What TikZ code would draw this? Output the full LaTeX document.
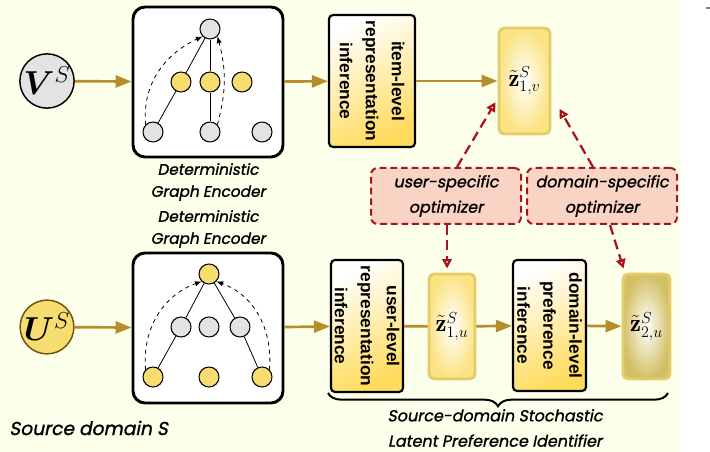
\documentclass[tikz,border=0pt]{standalone}
\usepackage{fontspec}
\usepackage{amsmath,bm}
\usetikzlibrary{arrows.meta,decorations.pathreplacing,calc}
\newfontfamily\labfont{Poppins}[FakeSlant=0.2,FakeBold=1.2]
\newfontfamily\boxfont{Liberation Sans}
\definecolor{bgivory}{HTML}{FCFFE9}
\definecolor{gold}{HTML}{B58E2B}
\definecolor{nodeyel}{HTML}{F7DC6F}
\definecolor{nodegray}{HTML}{E3E3E3}
\definecolor{optfill}{HTML}{F9D3C3}
\definecolor{optred}{HTML}{A8141E}
\definecolor{zborder}{HTML}{E4CC6C}
\definecolor{zyelA}{HTML}{FBE384}
\definecolor{zyelB}{HTML}{D3C066}
\definecolor{boxyel}{HTML}{FFDB5C}
\definecolor{udraw}{HTML}{6B5514}
\tikzset{
  bigcirc/.style={circle, minimum size=36.75pt, inner sep=0pt, line width=1.1pt, font=\fontsize{23}{26}\selectfont},
  encbox/.style={draw, line width=2.2pt, rounded corners=9pt, fill=white, minimum width=112.5pt, minimum height=112.5pt, inner sep=0pt},
  gn/.style={circle, draw, line width=0.8pt, minimum size=15pt, inner sep=0pt},
  gny/.style={gn, fill=nodeyel},
  gng/.style={gn, fill=nodegray},
  gedge/.style={line width=0.6pt},
  gdash/.style={line width=0.6pt, dashed, -{Latex[length=5pt,width=4pt]}},
  garrow/.style={draw=gold, line width=2pt, -{Triangle[length=12pt,width=9pt]}},
  gline/.style={draw=gold, line width=2pt},
  infbox/.style={draw, line width=1.6pt, rounded corners=3pt, top color=white, bottom color=boxyel, shading angle=25, inner sep=0pt},
  inftext/.style={rotate=-90, align=center, font=\boxfont\bfseries\fontsize{13}{19.5}\selectfont, inner sep=0pt},
  zbox/.style={draw=zborder, line width=2.2pt, rounded corners=4pt, inner color=white, inner sep=0pt, font=\fontsize{18.5}{22}\selectfont},
  optbox/.style={draw=optred, fill=optfill, line width=1.5pt, dash pattern=on 5pt off 3pt, rounded corners=5pt, minimum width=112.5pt, minimum height=42pt, inner sep=0pt, align=center, font=\labfont\fontsize{12}{19}\selectfont},
  redarrow/.style={draw=optred, line width=1.7pt, dash pattern=on 7.5pt off 4pt, -{Triangle[open,length=7pt,width=7pt]}},
  itlabel/.style={align=center, font=\labfont\fontsize{11.5}{16.5}\selectfont, inner sep=0pt},
}
\begin{document}
\begin{tikzpicture}[x=0.75pt,y=-0.75pt]
\fill[bgivory] (0,0) rectangle (681,452);
\useasboundingbox (0,0) rectangle (710,452);
\fill[gray] (706,7.2) rectangle (710,8.8);

% ---------- top row ----------
\node[bigcirc, draw=black, fill=nodegray] (V) at (47,81) {$\bm V^{S}$};
\node[encbox] (E1) at (208,82) {};
\node[gng] (t1) at (210,29) {};
\node[gny] (m11) at (181,82) {};
\node[gny] (m12) at (210,82) {};
\node[gny] (m13) at (242,82) {};
\node[gng] (b11) at (153,132) {};
\node[gng] (b12) at (210,132) {};
\node[gng] (b13) at (262,132) {};
\draw[gedge] (t1) -- (m11) -- (b11);
\draw[gedge] (t1) -- (m12) -- (b12);
\draw[gdash] (b11.north west) to[out=95,in=205] (t1.south west);
\draw[gdash] (b12.north east) to[out=75,in=-75] (t1.south east);

\node[infbox, minimum width=64.5pt, minimum height=99pt] (item) at (372,81) {};
\node[inftext] (itemT) at (item) {item-level\\representation\\inference};
\node[zbox, outer color=zyelA, minimum width=38.25pt, minimum height=79.5pt] (z1v) at (524.5,81) {$\tilde{\mathbf z}^{S}_{1,v}$};

\draw[garrow] (V) -- (E1);
\draw[garrow] (E1) -- (item);
\draw[garrow] (item) -- (z1v);

\node[itlabel] (encT1) at (208,182) {Deterministic\\Graph Encoder};
\node[itlabel] (encT2) at (208,229) {Deterministic\\Graph Encoder};

% ---------- optimizers ----------
\node[optbox] (uopt) at (446,196) {user-specific\\optimizer};
\node[optbox] (dopt) at (602,196) {domain-specific\\optimizer};

% ---------- bottom row ----------
\node[bigcirc, draw=udraw, fill=nodeyel] (U) at (47,327) {$\bm U^{S}$};
\node[encbox] (E2) at (208,328) {};
\node[gny] (t2) at (209,274) {};
\node[gng] (m21) at (181,327) {};
\node[gng] (m22) at (209,327) {};
\node[gng] (m23) at (240,327) {};
\node[gny] (b21) at (153,377) {};
\node[gny] (b22) at (209,377) {};
\node[gny] (b23) at (262,377) {};
\draw[gedge] (t2) -- (m21) -- (b21);
\draw[gedge] (t2) -- (m23) -- (b23);
\draw[gdash] (b21.north west) to[out=95,in=200] (t2.south west);
\draw[gdash] (b23.north east) to[out=85,in=-20] (t2.south east);

\node[infbox, minimum width=54pt, minimum height=99pt] (user) at (367,326) {};
\node[inftext] (userT) at (user) {user-level\\representation\\inference};
\node[zbox, outer color=zyelA, minimum width=34.5pt, minimum height=78.75pt] (z1u) at (452,326.5) {$\tilde{\mathbf z}^{S}_{1,u}$};
\node[infbox, minimum width=54.75pt, minimum height=98.25pt] (dom) at (549.5,325.5) {};
\node[inftext] (domT) at (dom) {domain-level\\preference\\inference};
\node[zbox, outer color=zyelB, minimum width=35.25pt, minimum height=78.75pt] (z2u) at (646.5,326.5) {$\tilde{\mathbf z}^{S}_{2,u}$};

\draw[garrow] (U) -- (E2);
\draw[garrow] (E2) -- (user);
\draw[gline] (user) -- (z1u);
\draw[garrow] (z1u) -- (dom);
\draw[garrow] (dom) -- (z2u);

% ---------- red dashed arrows ----------
\draw[redarrow] ([xshift=8.25pt]uopt.north) -- ([xshift=-1.5pt,yshift=25pt]z1v.south west);
\draw[redarrow] ([xshift=-6.75pt]dopt.north) -- ([xshift=6pt,yshift=20pt]z1v.south east);
\draw[redarrow] ([xshift=-3.75pt]z1u.north |- uopt.south) -- ([xshift=-3.75pt,yshift=3pt]z1u.north);
\draw[redarrow] ([xshift=6pt]dopt.south) -- ([xshift=1.5pt,yshift=3pt]z2u.north west);

% ---------- brace ----------
\coordinate (brL) at (328,393);
\coordinate (brR) at (668,393);
\draw[line width=1.5pt, decorate, decoration={brace, mirror, amplitude=10pt}] (brL) -- (brR);
\node[itlabel, font=\labfont\fontsize{12}{17}\selectfont] (braceT) at (495,428) {Source-domain Stochastic\\[2pt]Latent Preference Identifier};

\node[anchor=west, inner sep=0pt, font=\labfont\fontsize{14}{18}\selectfont] (src) at (9,428) {Source domain S};
\end{tikzpicture}
\end{document}
